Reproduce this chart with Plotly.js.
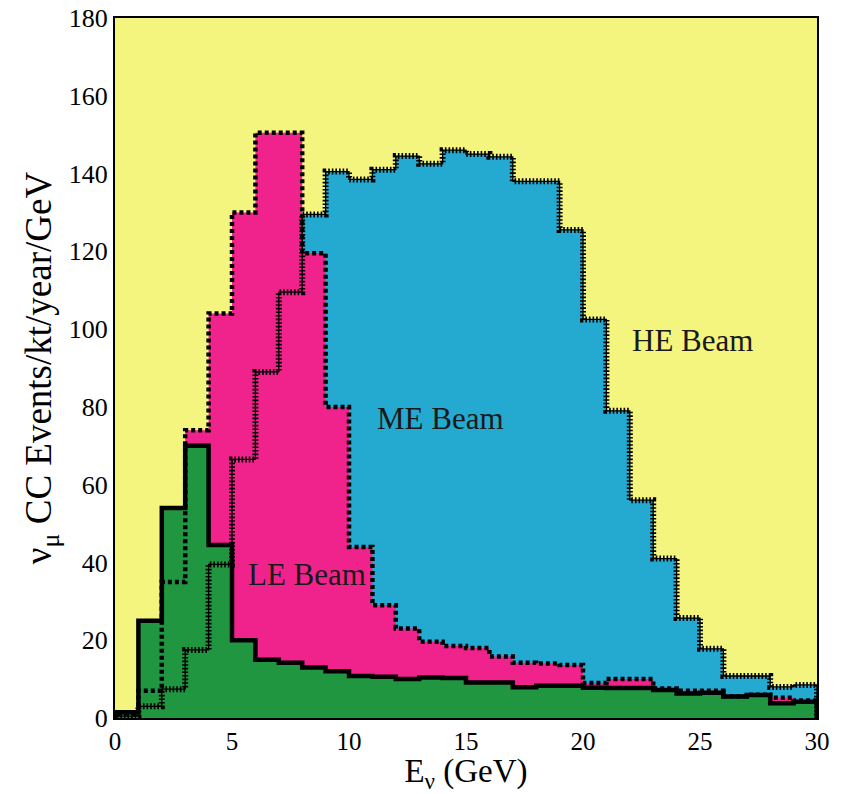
<!DOCTYPE html>
<html>
<head>
<meta charset="utf-8">
<script src="https://cdn.plot.ly/plotly-3.0.1.min.js"></script>
<style>html,body{margin:0;padding:0;background:#fff;}#chart{width:842px;height:794px;}</style>
</head>
<body>
<div id="chart"></div>
<script>
// Bin edges (GeV), 1 GeV bins from 0 to 30
const binEdges = [0,1,2,3,4,5,6,7,8,9,10,11,12,13,14,15,16,17,18,19,20,21,22,23,24,25,26,27,28,29,30];

// nu_mu CC events / kt / year / GeV per bin
const leBeam = [1.5, 25, 54, 70, 44.5, 20, 15, 14.2, 13, 12, 10.8, 10.6, 10, 10.4, 10.3, 9.1, 9.1, 7.9, 8.3, 8.3, 7.8, 7.7, 7.7, 7.2, 6.3, 6.5, 5.5, 5.9, 3.8, 4.2];
const meBeam = [1, 7, 35, 74, 104, 130, 150.5, 150.5, 119.5, 80, 44, 29, 23, 19.6, 18.5, 18, 15.8, 14.2, 14, 13.6, 9, 10, 10, 7.6, 7, 7, 5.6, 6, 5.2, 4.5];
const heBeam = [0.5, 3, 7.4, 17.5, 39.5, 66.5, 89, 109.5, 129.5, 140.5, 138.5, 141, 144.5, 142.5, 146, 145, 144.3, 138, 138, 125.5, 102.5, 79, 56, 41, 25.7, 17.8, 10.8, 10.8, 8, 8.5];

// Labels
const beamLabels = ["LE Beam", "ME Beam", "HE Beam"];
const labelX = [8.2, 13.9, 24.7];
const labelY = [37, 77, 97];

const xTicks = [0, 5, 10, 15, 20, 25, 30];
const yTicks = [0, 20, 40, 60, 80, 100, 120, 140, 160, 180];

const colors = { bg: "#f3f57e", he: "#24a9d0", me: "#f0238d", le: "#1f963f" };

function stepXY(vals) {
  const x = [binEdges[0]];
  const y = [0];
  for (let i = 0; i < vals.length; i++) { x.push(binEdges[i]); y.push(vals[i]); }
  x.push(binEdges[binEdges.length - 1]); y.push(vals[vals.length - 1]);
  x.push(binEdges[binEdges.length - 1]); y.push(0);
  return { x, y };
}

const he = stepXY(heBeam), me = stepXY(meBeam), le = stepXY(leBeam);
const FONT = "Liberation Serif, Times New Roman, serif";

const traces = [
  { x: he.x, y: he.y, mode: "lines", line: { shape: "hv", width: 0 }, fill: "tozeroy", fillcolor: colors.he, hoverinfo: "skip", showlegend: false },
  { x: me.x, y: me.y, mode: "lines", line: { shape: "hv", width: 0 }, fill: "tozeroy", fillcolor: colors.me, hoverinfo: "skip", showlegend: false },
  { x: le.x, y: le.y, mode: "lines", line: { shape: "hv", width: 0 }, fill: "tozeroy", fillcolor: colors.le, hoverinfo: "skip", showlegend: false },
  // HE: comb-like line
  { x: he.x, y: he.y, mode: "lines", line: { shape: "hv", width: 1.3, color: "#000" }, showlegend: false },
  { x: he.x, y: he.y, mode: "lines", line: { shape: "hv", width: 6, color: "#000", dash: "1.6px,2px" }, showlegend: false },
  // ME: dotted
  { x: me.x, y: me.y, mode: "lines", line: { shape: "hv", width: 4.5, color: "#000", dash: "4px,3px" }, showlegend: false },
  // LE: solid
  { x: le.x, y: le.y, mode: "lines", line: { shape: "hv", width: 4.5, color: "#000" }, showlegend: false }
];

const annotations = beamLabels.map((t, i) => ({
  x: labelX[i], y: labelY[i], xref: "x", yref: "y", text: t, showarrow: false,
  font: { family: FONT, size: 31, color: "#1a1a1a" }, xanchor: "center", yanchor: "middle"
}));

const layout = {
  width: 842, height: 794,
  margin: { l: 115, r: 25, t: 18, b: 76 },
  paper_bgcolor: "#ffffff",
  plot_bgcolor: colors.bg,
  showlegend: false,
  font: { family: FONT, color: "#000" },
  xaxis: {
    range: [0, 30], tickvals: xTicks, ticktext: xTicks.map(String),
    showgrid: false, zeroline: false, showline: true, mirror: true, linecolor: "#000", linewidth: 2,
    ticks: "", tickfont: { family: FONT, size: 25, color: "#000" },
    title: { text: "E<sub>ν</sub> (GeV)", font: { family: FONT, size: 33, color: "#000" }, standoff: 9 }
  },
  yaxis: {
    range: [0, 180], tickvals: yTicks, ticktext: yTicks.map(String),
    showgrid: false, zeroline: false, showline: true, mirror: true, linecolor: "#000", linewidth: 2,
    ticks: "", tickfont: { family: FONT, size: 26, color: "#000" },
    title: { text: "ν<sub>μ</sub> CC Events/kt/year/GeV", font: { family: FONT, size: 37, color: "#000" }, standoff: 6 }
  },
  annotations: annotations
};

Plotly.newPlot("chart", traces, layout, { displayModeBar: false, staticPlot: true });
</script>
</body>
</html>
